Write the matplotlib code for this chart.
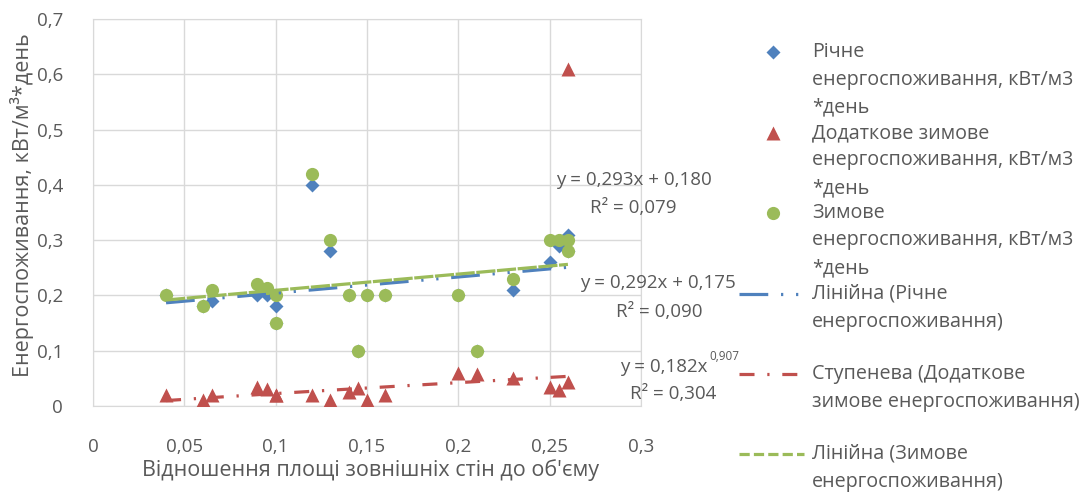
import matplotlib
matplotlib.use("Agg")
import matplotlib.pyplot as plt
from matplotlib.lines import Line2D
import numpy as np

# ratio of external wall area to volume
ratio = [0.04, 0.06, 0.065, 0.09, 0.095, 0.1, 0.1, 0.12, 0.13, 0.14,
         0.145, 0.15, 0.16, 0.2, 0.21, 0.23, 0.25, 0.255, 0.26, 0.26]
annual = [0.20, 0.18, 0.19, 0.20, 0.20, 0.18, 0.15, 0.40, 0.28, 0.20,
          0.10, 0.20, 0.20, 0.20, 0.10, 0.21, 0.26, 0.29, 0.31, 0.28]
extra_winter = [0.02, 0.01, 0.02, 0.035, 0.03, 0.02, 0.02, 0.02, 0.01, 0.025,
                0.032, 0.01, 0.02, 0.06, 0.058, 0.05, 0.035, 0.029, 0.043, 0.61]
winter = [0.20, 0.18, 0.21, 0.22, 0.213, 0.20, 0.15, 0.42, 0.30, 0.20,
          0.10, 0.20, 0.20, 0.20, 0.10, 0.23, 0.30, 0.30, 0.30, 0.28]

# trendline coefficients as printed on the chart
annual_fit = (0.292, 0.175)   # slope, intercept
winter_fit = (0.293, 0.180)
extra_fit = (0.182, 0.907)    # coef, power

x_ticks = [0, 0.05, 0.1, 0.15, 0.2, 0.25, 0.3]
y_ticks = [0, 0.1, 0.2, 0.3, 0.4, 0.5, 0.6, 0.7]

legend_labels = ["Річне\nенергоспоживання, кВт/м3\n*день",
                 "Додаткове зимове\nенергоспоживання, кВт/м3\n*день",
                 "Зимове\nенергоспоживання, кВт/м3\n*день",
                 "Лінійна (Річне\nенергоспоживання)",
                 "Ступенева (Додаткове\nзимове енергоспоживання)",
                 "Лінійна (Зимове\nенергоспоживання)"]

W, H = 1083, 493
plt.rcParams["font.family"] = ["Open Sans", "DejaVu Sans"]
txt = "#595959"
blue, red, green = "#4F81BD", "#C0504D", "#9BBB59"
fs = 13.5       # ticks, equations
fs_leg = 14.2   # legend
fs_title = 15.5 # axis titles

blue_ls = (0, (9, 4, 0.7, 4, 0.7, 4))
red_ls = (0, (4.7, 4, 0.7, 4))
green_ls = (0, (6, 0.5))
green_leg_ls = (0, (3.2, 1.3))
lw = 2.3
ms_d, ms_t, ms_o = 6.8, 9.5, 9.5


def fx(px):
    return px / W


def fy(py):
    return 1 - py / H


fig = plt.figure(figsize=(W / 100, H / 100), dpi=100)
ax = fig.add_axes([fx(93), fy(406), (641 - 93) / W, (406 - 19) / H])

ax.plot(ratio, annual, "D", color=blue, ms=ms_d, mec="none", zorder=3)
ax.plot(ratio, extra_winter, "^", color=red, ms=ms_t, mec="none", zorder=3)
ax.plot(ratio, winter, "o", color=green, ms=ms_o, mec="none", zorder=3)

xs = np.linspace(min(ratio), max(ratio), 200)
ax.plot(xs, annual_fit[0] * xs + annual_fit[1], color=blue, lw=lw, ls=blue_ls, zorder=4)
ax.plot(xs, extra_fit[0] * xs ** extra_fit[1], color=red, lw=lw, ls=red_ls, zorder=4)
ax.plot(xs, winter_fit[0] * xs + winter_fit[1], color=green, lw=lw, ls=green_ls, zorder=4)

ax.set_xlim(0, 0.3)
ax.set_ylim(0, 0.7)
ax.set_xticks(x_ticks)
ax.set_xticklabels([f"{t:g}".replace(".", ",") for t in x_ticks])
ax.set_yticks(y_ticks)
ax.set_yticklabels([f"{t:g}".replace(".", ",") for t in y_ticks])
ax.tick_params(length=0, labelsize=fs, colors=txt)
ax.tick_params(axis="y", pad=21.5)
ax.tick_params(axis="x", pad=23)
ax.grid(color="#D9D9D9", lw=1)
ax.set_axisbelow(True)
for s in ax.spines.values():
    s.set_color("#D9D9D9")

fig.text(fx(370), fy(470), "Відношення площі зовнішніх стін до об'єму",
         ha="center", va="center", fontsize=fs_title, color=txt)
fig.text(fx(22), fy(205), "Енергоспоживання, кВт/м³*день", rotation=90,
         ha="center", va="center", fontsize=fs_title, color=txt)

# trendline equations
fig.text(fx(634), fy(180), "y = 0,293x + 0,180", ha="center", va="center", fontsize=fs, color=txt)
fig.text(fx(633), fy(208), "R² = 0,079", ha="center", va="center", fontsize=fs, color=txt)
fig.text(fx(658), fy(283), "y = 0,292x + 0,175", ha="center", va="center", fontsize=fs, color=txt)
fig.text(fx(659), fy(312), "R² = 0,090", ha="center", va="center", fontsize=fs, color=txt)
fig.text(fx(708), fy(367), "y = 0,182x", ha="right", va="center", fontsize=fs, color=txt)
fig.text(fx(709), fy(357), "0,907", ha="left", va="center", fontsize=fs * 0.62, color=txt)
fig.text(fx(673), fy(394), "R² = 0,304", ha="center", va="center", fontsize=fs, color=txt)

# legend, drawn by hand to match the wrapped Excel layout
first_line = [52, 133, 213, 294, 374, 454]
handles = [("D", blue, None, ms_d), ("^", red, None, ms_t), ("o", green, None, ms_o),
           (None, blue, blue_ls, 0), (None, red, red_ls, 0), (None, green, green_leg_ls, 0)]
for (mk, col, ls, ms), label, y0 in zip(handles, legend_labels, first_line):
    if mk:
        fig.add_artist(Line2D([fx(773)], [fy(y0)], marker=mk, color=col, ms=ms,
                              mec="none", ls="none", transform=fig.transFigure))
    else:
        fig.add_artist(Line2D([fx(739), fx(804)], [fy(y0), fy(y0)], color=col, lw=lw,
                              ls=ls, transform=fig.transFigure))
    for i, line in enumerate(label.split("\n")):
        fig.text(fx(812), fy(y0 + 27.5 * i), line, ha="left", va="center",
                 fontsize=fs_leg, color=txt)

fig.savefig("out.png", dpi=100)
